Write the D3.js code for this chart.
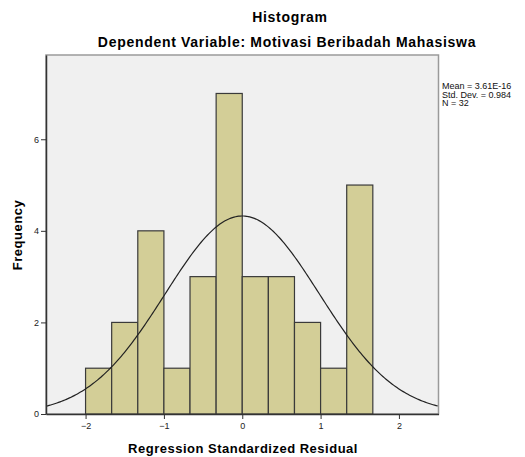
<!DOCTYPE html>
<html>
<head>
<meta charset="utf-8">
<script src="https://cdn.jsdelivr.net/npm/d3@7"></script>
<style>
body { margin: 0; background: #fff; }
text { font-family: "Liberation Sans", Arial, sans-serif; }
</style>
</head>
<body>
<div id="container"></div>
<script>
var w = 525
var h = 457

// histogram bins (lower edges) and counts
var binStart = [-2, -1.6667, -1.3333, -1, -0.6667, -0.3333, 0, 0.3333, 0.6667, 1, 1.3333]
var binWidth = 1 / 3
var counts = [1, 2, 4, 1, 3, 7, 3, 3, 2, 1, 5]
var xTicks = [-2, -1, 0, 1, 2]
var yTicks = [0, 2, 4, 6]
var statsLines = ["Mean = 3.61E-16", "Std. Dev. = 0.984", "N = 32"]
var mean = 3.61e-16, sd = 0.984, n = 32

var svg = d3.select("#container").append("svg")
    .attr("width", w)
    .attr("height", h)

var x = d3.scaleLinear().domain([-2.505, 2.505]).range([46, 438.5])
var y = d3.scaleLinear().domain([0, 7.84]).range([414, 55])

// plot background
svg.append("rect")
    .attr("x", x.range()[0]).attr("y", y.range()[1])
    .attr("width", x.range()[1] - x.range()[0])
    .attr("height", y.range()[0] - y.range()[1])
    .style("fill", "#f0f0f0")
    .style("stroke", "#9a9a9a")
    .style("stroke-width", 1.5)

// bars
svg.selectAll(".bar")
    .data(counts)
    .enter()
    .append("rect")
    .attr("class", "bar")
    .attr("x", function (d, i) { return x(binStart[i]) })
    .attr("y", function (d) { return y(d) })
    .attr("width", function (d, i) { return x(binStart[i] + binWidth) - x(binStart[i]) })
    .attr("height", function (d) { return y(0) - y(d) })
    .style("fill", "#d3ce97")
    .style("stroke", "#3a3a3a")
    .style("stroke-width", 1.2)

// fitted normal curve
var pts = d3.range(-2.505, 2.51, 0.02).map(function (v) {
    var pdf = Math.exp(-0.5 * Math.pow((v - mean) / sd, 2)) / (sd * Math.sqrt(2 * Math.PI))
    return [v, n * binWidth * pdf]
})
svg.append("path")
    .datum(pts)
    .attr("d", d3.line().x(function (d) { return x(d[0]) }).y(function (d) { return y(d[1]) }))
    .style("fill", "none")
    .style("stroke", "#222")
    .style("stroke-width", 1.2)

// axes
var xAxis = svg.append("g")
    .attr("transform", "translate(0," + y(0) + ")")
    .call(d3.axisBottom(x).tickValues(xTicks).tickSize(5).tickSizeOuter(0).tickPadding(4).tickFormat(d3.format("d")))
var yAxis = svg.append("g")
    .attr("transform", "translate(" + x.range()[0] + ",0)")
    .call(d3.axisLeft(y).tickValues(yTicks).tickSize(5).tickSizeOuter(0).tickPadding(2).tickFormat(d3.format("d")))

xAxis.select(".domain").attr("stroke", "#333").attr("stroke-width", 1.5)
yAxis.select(".domain").attr("stroke", "#333").attr("stroke-width", 1.5)
svg.selectAll(".tick line").attr("stroke", "#333")
svg.selectAll(".tick text")
    .style("font-size", "9px")
    .style("fill", "#222")

// titles
svg.append("text")
    .attr("x", 290).attr("y", 22)
    .attr("text-anchor", "middle")
    .style("font-size", "14px").style("font-weight", "bold")
    .style("letter-spacing", "0.7px")
    .text("Histogram")
svg.append("text")
    .attr("x", 287).attr("y", 47)
    .attr("text-anchor", "middle")
    .style("font-size", "14px").style("font-weight", "bold")
    .style("letter-spacing", "0.7px")
    .text("Dependent Variable: Motivasi Beribadah Mahasiswa")

svg.append("text")
    .attr("x", 243).attr("y", 453)
    .attr("text-anchor", "middle")
    .style("font-size", "13px").style("font-weight", "bold")
    .style("letter-spacing", "0.5px")
    .text("Regression Standardized Residual")

svg.append("text")
    .attr("transform", "translate(22,235) rotate(-90)")
    .attr("text-anchor", "middle")
    .style("font-size", "13px").style("font-weight", "bold")
    .style("letter-spacing", "0.5px")
    .text("Frequency")

// stats box
svg.selectAll(".stat")
    .data(statsLines)
    .enter()
    .append("text")
    .attr("class", "stat")
    .attr("x", 442)
    .attr("y", function (d, i) { return 89 + i * 8.5 })
    .style("font-size", "9px")
    .style("fill", "#111")
    .text(function (d) { return d })
</script>
</body>
</html>
